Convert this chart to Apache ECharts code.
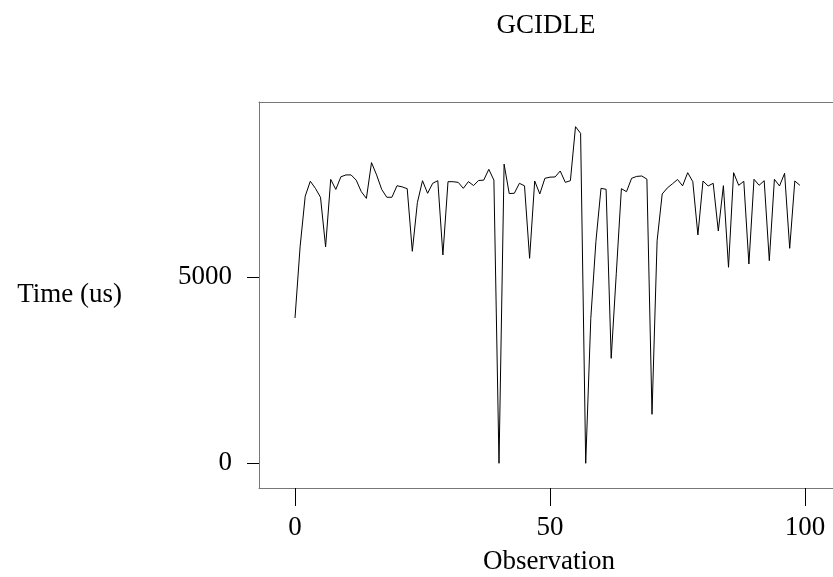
<!DOCTYPE html>
<html>
<head>
<meta charset="utf-8">
<script src="https://cdn.jsdelivr.net/npm/echarts@6/dist/echarts.min.js"></script>
<style>html,body{margin:0;padding:0;background:#fff}#c{width:833px;height:577px}</style>
</head>
<body>
<div id="c"></div>
<script>
var titleText = 'GCIDLE';
var xName = 'Observation';
var yName = 'Time (us)';
var xTicks = [0, 50, 100];
var yTicks = [0, 5000];
var values = [
  3900, 5810, 7170, 7570, 7380, 7140, 5810, 7620, 7350, 7690,
  7740, 7740, 7600, 7290, 7110, 8070, 7740, 7350, 7140, 7140,
  7450, 7420, 7370, 5690, 7000, 7585, 7247, 7515, 7585, 5591,
  7558, 7558, 7540, 7380, 7560, 7455, 7590, 7600, 7890, 7600,
  0, 8030, 7240, 7247, 7515, 7447, 5502, 7577, 7229, 7649,
  7680, 7685, 7845, 7541, 7585, 9035, 8857, 0, 3890, 5950,
  7380, 7354, 2818, 5100, 7370, 7290, 7649, 7700, 7711, 7627,
  1315, 5970, 7228, 7390, 7500, 7617, 7447, 7800, 7558, 6128,
  7577, 7443, 7515, 6235, 7451, 5261, 7800, 7461, 7569, 5349,
  7623, 7461, 7585, 5438, 7623, 7443, 7783, 5770, 7577, 7461
];

var FONT = 'Liberation Serif';
var FS = 27;
var AX = '#777';
var XMIN = -7.06, XMAX = 105.49;
var chart = echarts.init(document.getElementById('c'), null, {renderer: 'canvas'});
chart.setOption({
  animation: false,
  backgroundColor: '#fff',
  title: {
    text: titleText, left: 541, top: 7, textAlign: 'center',
    textStyle: {fontFamily: FONT, fontSize: FS, fontWeight: 'normal', color: '#000'}
  },
  grid: {left: 259, top: 102, width: 574, height: 386, show: false, containLabel: false, outerBoundsMode: 'none'},
  xAxis: [{
    type: 'value', min: XMIN, max: XMAX, position: 'bottom',
    name: xName, nameLocation: 'middle', nameGap: 60,
    nameTextStyle: {fontFamily: FONT, fontSize: FS, color: '#000', padding: [0, 0, 0, 6]},
    axisLine: {show: true, onZero: false, lineStyle: {color: AX, width: 1}},
    axisTick: {show: true, customValues: xTicks, length: 18, lineStyle: {color: '#000'}},
    axisLabel: {customValues: xTicks, margin: 26, fontFamily: FONT, fontSize: FS, color: '#000',
      formatter: function (v) { return String(v); }},
    splitLine: {show: false}
  }, {
    type: 'value', min: XMIN, max: XMAX, position: 'top',
    axisLine: {show: true, onZero: false, lineStyle: {color: AX, width: 1}},
    axisTick: {show: false}, axisLabel: {show: false}, splitLine: {show: false}
  }],
  yAxis: {
    type: 'value', min: -663, max: 9697,
    name: yName, nameLocation: 'middle', nameRotate: 0, nameGap: 137,
    nameTextStyle: {fontFamily: FONT, fontSize: FS, color: '#000', align: 'right', padding: [0, 0, 14, 0]},
    axisLine: {show: true, onZero: false, lineStyle: {color: AX, width: 1}},
    axisTick: {show: true, customValues: yTicks, length: 12, lineStyle: {color: '#000'}},
    axisLabel: {customValues: yTicks, margin: 27, fontFamily: FONT, fontSize: FS, color: '#000',
      formatter: function (v) { return String(v); }},
    splitLine: {show: false}
  },
  series: [{
    type: 'line', xAxisIndex: 0,
    data: values.map(function (v, i) { return [i, v]; }),
    showSymbol: false, symbol: 'none',
    lineStyle: {color: '#000', width: 1},
    silent: true
  }]
});
</script>
</body>
</html>
